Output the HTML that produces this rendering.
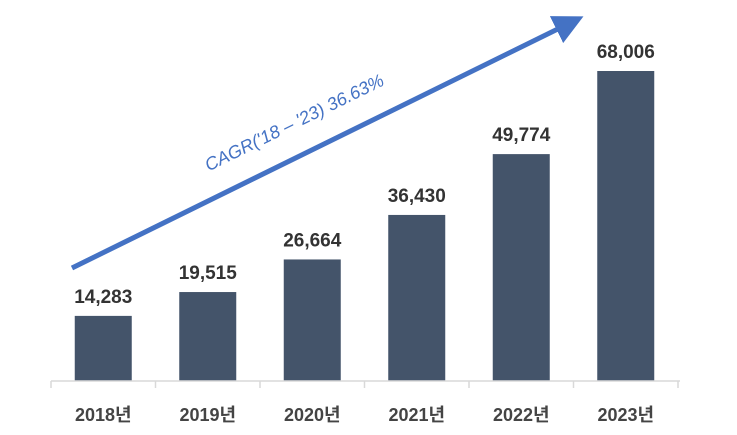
<!DOCTYPE html>
<html><head><meta charset="utf-8"><style>
body{margin:0;background:#fff;}
svg{display:block;font-family:"Liberation Sans","Noto Sans CJK KR",sans-serif;}
</style></head><body>
<svg width="737" height="435" viewBox="0 0 737 435">
<defs><marker id="ah" markerWidth="6" markerHeight="6" refX="3" refY="3" orient="auto" markerUnits="strokeWidth"><path d="M0,0 L6,3 L0,6 z" fill="#4472c4"/></marker></defs>
<g id="bars"></g>
<line x1="51" y1="381" x2="680" y2="381" stroke="#d9d9d9" stroke-width="1.5"/>
<g id="ticks"></g>
<line x1="72" y1="268" x2="570" y2="23" stroke="#4472c4" stroke-width="5" marker-end="url(#ah)"/>
<text x="0" y="0" transform="translate(297,128) rotate(-26.2)" text-anchor="middle" font-size="18" font-style="italic" fill="#4472c4">CAGR('18 – '23) 36.63%</text>
</svg>
<script>
const categories=["2018년","2019년","2020년","2021년","2022年"].slice(0,0).concat(["2018년","2019년","2020년","2021년","2022년","2023년"]);
const values=[14283,19515,26664,36430,49774,68006];
const valueLabels=["14,283","19,515","26,664","36,430","49,774","68,006"];
const NS="http://www.w3.org/2000/svg";
const x0=51,step=104.5,base=381,scale=310/68006,bw=57;
const xc=i=>x0+step*(i+0.5);
const y=v=>base-v*scale;
const gb=document.getElementById('bars'),gt=document.getElementById('ticks');
for(let i=0;i<=categories.length;i++){
 const t=document.createElementNS(NS,'line');
 t.setAttribute('x1',x0+step*i);t.setAttribute('x2',x0+step*i);t.setAttribute('y1',base);t.setAttribute('y2',base+7);
 t.setAttribute('stroke','#d9d9d9');t.setAttribute('stroke-width','1.5');
 
 
 gt.appendChild(t);
}
categories.forEach((c,i)=>{
 const r=document.createElementNS(NS,'rect');
 r.setAttribute('x',xc(i)-bw/2);r.setAttribute('y',y(values[i]));r.setAttribute('width',bw);r.setAttribute('height',base-y(values[i]));
 r.setAttribute('fill','#44546a');
 
 
 gb.appendChild(r);
 const v=document.createElementNS(NS,'text');
 v.setAttribute('x',xc(i));v.setAttribute('y',y(values[i])-13);v.setAttribute('text-anchor','middle');
 v.setAttribute('font-size','19');v.setAttribute('font-weight','bold');v.setAttribute('fill','#333');
 v.textContent=valueLabels[i];
 
 
 gb.appendChild(v);
 const l=document.createElementNS(NS,'text');
 l.setAttribute('x',xc(i));l.setAttribute('y',421);l.setAttribute('text-anchor','middle');
 l.setAttribute('font-size','18');l.setAttribute('font-weight','bold');l.setAttribute('fill','#444');
 l.textContent=c;
 
 
 gb.appendChild(l);
});
</script>
</body></html>
